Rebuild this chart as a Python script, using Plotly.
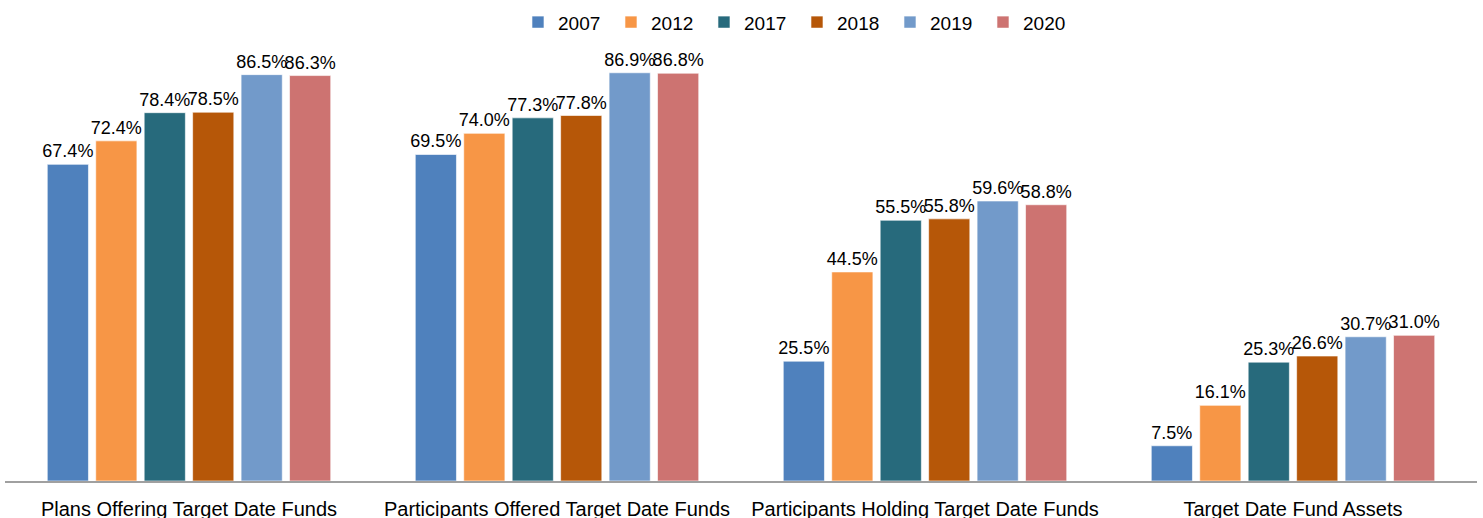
import plotly.graph_objects as go

categories = ["Plans Offering Target Date Funds", "Participants Offered Target Date Funds",
              "Participants Holding Target Date Funds", "Target Date Fund Assets"]
years = ["2007", "2012", "2017", "2018", "2019", "2020"]
v2007 = [67.4, 69.5, 25.5, 7.5]
v2012 = [72.4, 74.0, 44.5, 16.1]
v2017 = [78.4, 77.3, 55.5, 25.3]
v2018 = [78.5, 77.8, 55.8, 26.6]
v2019 = [86.5, 86.9, 59.6, 30.7]
v2020 = [86.3, 86.8, 58.8, 31.0]
series = [v2007, v2012, v2017, v2018, v2019, v2020]
colors = ["#4F81BD", "#F79646", "#276A7C", "#B65708", "#729ACA", "#CD7371"]

fig = go.Figure()
for yr, vals, c in zip(years, series, colors):
    fig.add_trace(go.Bar(
        x=categories, y=vals, name=yr,
        marker=dict(color=c, line=dict(color="rgba(255,255,255,0.6)", width=1)),
        text=[f"{v:.1f}%" for v in vals], textposition="outside",
        textfont=dict(family="Liberation Sans, Arial", size=18, color="#000"),
        constraintext="none",
        cliponaxis=False,
    ))

fig.update_layout(
    width=1483, height=518,
    margin=dict(l=5, r=6, t=30, b=37, autoexpand=False),
    paper_bgcolor="white", plot_bgcolor="white",
    barmode="group", bargap=0.21, bargroupgap=0.15,
    font=dict(family="Liberation Sans, Arial", color="#000"),
    legend=dict(orientation="h", x=0.3485, xanchor="left", y=0.957, yanchor="middle",
                yref="container", font=dict(size=19), itemwidth=30, entrywidth=48,
                traceorder="normal"),
    showlegend=True,
)
fig.update_xaxes(showline=True, linecolor="#A0A0A0", linewidth=1.5, showgrid=False,
                 tickfont=dict(size=20), ticklabelstandoff=9)
fig.update_yaxes(range=[0, 96], visible=False)
fig.write_html("out.html", config={"displayModeBar": False},
               post_script="document.body.style.margin='0';")
